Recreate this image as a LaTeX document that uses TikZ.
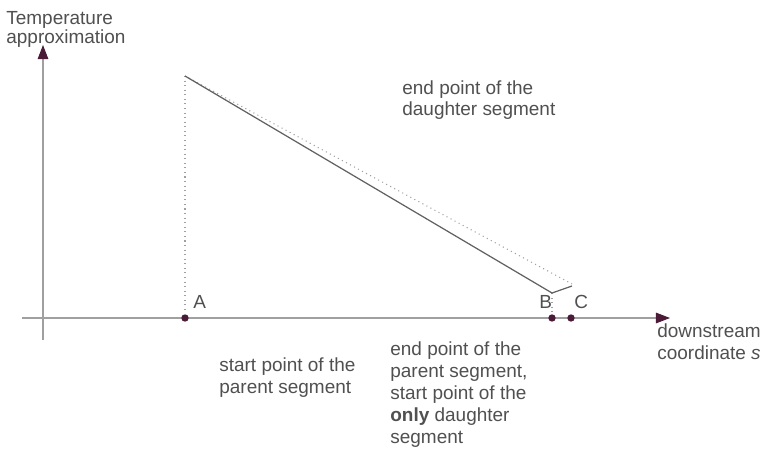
\documentclass[tikz,border=0pt]{standalone}
\usepackage{fontspec}
\setmainfont{Liberation Sans}
\usetikzlibrary{arrows.meta,positioning}
\definecolor{txtgray}{HTML}{505050}
\definecolor{axisgray}{HTML}{A0A0A0}
\definecolor{tipdark}{HTML}{4B1A36}

\begin{document}
\begin{tikzpicture}[
  x=0.02cm, y=-0.02cm,
  lbl/.style={font=\fontsize{10.8}{12.4}\selectfont, text=txtgray, align=left, inner sep=0pt, anchor=base west},
  axis/.style={draw=axisgray, line width=0.6pt, -{Triangle[length=8pt, width=6pt, fill=tipdark, color=tipdark]}},
  dot/.style={circle, fill=tipdark, inner sep=0pt, minimum size=4.2pt},
  guide/.style={draw=axisgray, dotted, line width=0.6pt},
  approx/.style={draw=txtgray!90, line width=0.7pt},
  node distance=1mm
]
\useasboundingbox (0,0) rectangle (763,452);

% axes
\coordinate (ybot) at (43,340);
\coordinate (ytop) at (43,45);
\coordinate (xleft) at (22,318);
\coordinate (xright) at (670,318);
\draw[axis] (ybot) -- (ytop);
\draw[axis] (xleft) -- (xright);

% points on the s axis
\node[dot] (A) at (185,318) {};
\node[dot] (B) at (552,318) {};
\node[dot] (C) at (571,318) {};
\node[lbl] (Alab) at (193,308) {A};
\node[lbl] (Blab) at (539,308) {B};
\node[lbl] (Clab) at (574,308) {C};

% temperature approximation
\coordinate (start) at (185,76);
\coordinate (bend) at (552,293);
\coordinate (dend) at (572,286);
\coordinate (dotend) at (572,284);
\draw[guide] (start) -- (A);
\draw[guide] (bend) -- (B);
\draw[guide] (start) -- (dotend);
\draw[approx] (start) -- (bend) -- (dend);

% texts (placed at the baseline of their last line)
\node[lbl, font=\fontsize{10.8}{11.2}\selectfont] (ylab) at (6,44) {Temperature\\approximation};
\node[lbl] (xlab) at (657,359) {downstream\\coordinate \textit{s}};
\node[lbl] (dtext) at (402,116) {end point of the\\daughter segment};
\node[lbl] (ptext) at (219,393) {start point of the\\parent segment};
\node[lbl] (btext) at (390,443) {end point of the\\parent segment,\\start point of the\\\textbf{only} daughter\\segment};
\end{tikzpicture}
\end{document}
